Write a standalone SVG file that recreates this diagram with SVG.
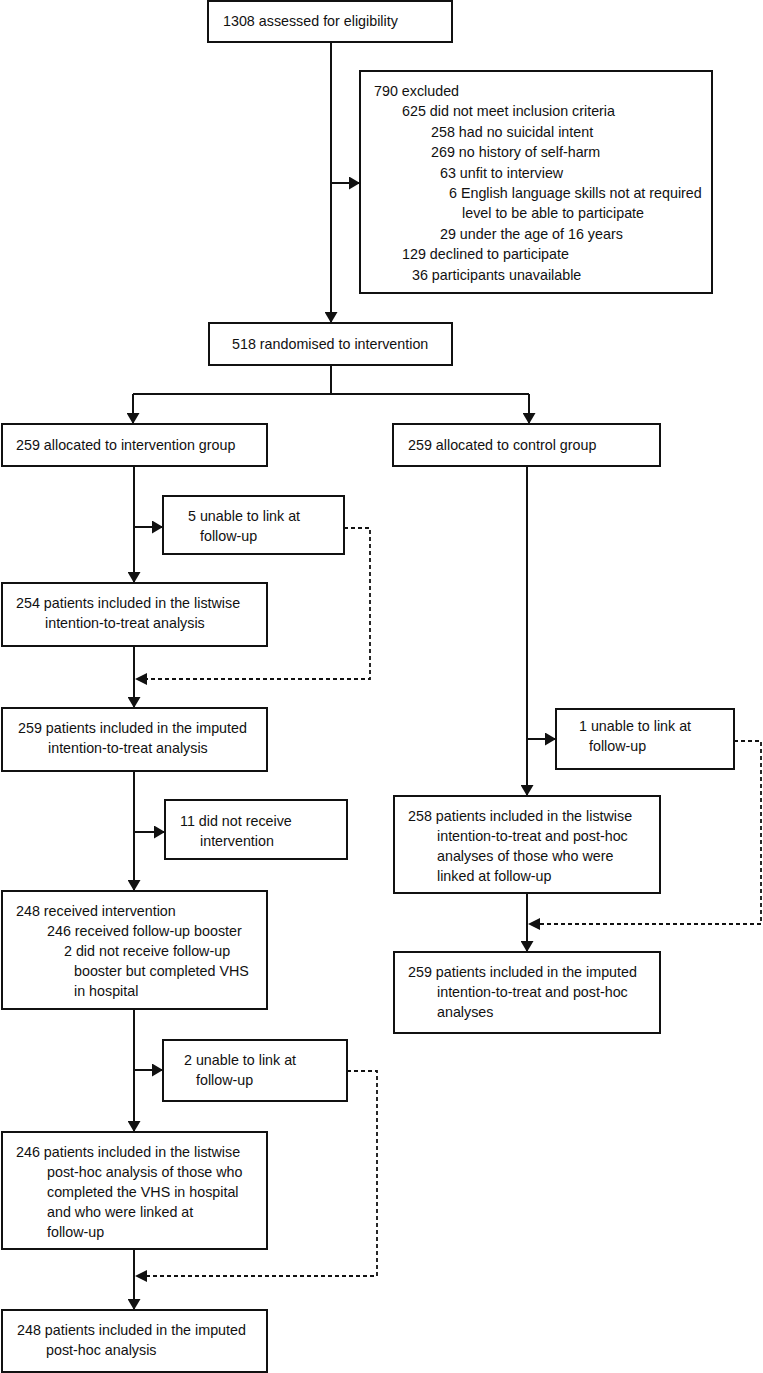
<svg xmlns="http://www.w3.org/2000/svg" width="763" height="1373" viewBox="0 0 763 1373">
<style>
.box{fill:#fff;stroke:#111;stroke-width:2}
.ln{fill:none;stroke:#111;stroke-width:2}
.ds{fill:none;stroke:#111;stroke-width:1.8;stroke-dasharray:4 3}
text{font-family:"Liberation Sans",Arial,sans-serif;font-size:14.3px;fill:#111}
</style>
<defs>
<marker id="ah" markerUnits="userSpaceOnUse" markerWidth="11" markerHeight="13" refX="10" refY="6.5" orient="auto" viewBox="0 0 11 13">
<path d="M0,0 L11,6.5 L0,13 z" fill="#111"/>
</marker>
</defs>
<rect width="763" height="1373" fill="#fff"/>
<g id="connectors">
<path class="ln" d="M331,42 V322" marker-end="url(#ah)"/>
<path class="ln" d="M331,183 H359" marker-end="url(#ah)"/>
<path class="ln" d="M331,365 V394 M133,394 H529"/>
<path class="ln" d="M133,394 V423" marker-end="url(#ah)"/>
<path class="ln" d="M529,394 V423" marker-end="url(#ah)"/>
<path class="ln" d="M134,466 V582" marker-end="url(#ah)"/>
<path class="ln" d="M134,527 H162" marker-end="url(#ah)"/>
<path class="ln" d="M134,646 V707" marker-end="url(#ah)"/>
<path class="ln" d="M134,771 V890" marker-end="url(#ah)"/>
<path class="ln" d="M134,832 H164" marker-end="url(#ah)"/>
<path class="ln" d="M134,1009 V1131" marker-end="url(#ah)"/>
<path class="ln" d="M134,1070 H162" marker-end="url(#ah)"/>
<path class="ln" d="M134,1249 V1309" marker-end="url(#ah)"/>
<path class="ln" d="M527,466 V795" marker-end="url(#ah)"/>
<path class="ln" d="M527,739 H555" marker-end="url(#ah)"/>
<path class="ln" d="M527,893 V951" marker-end="url(#ah)"/>
<path class="ds" d="M344,528 H370 V679 H147"/>
<path d="M135,679 L147,673 L147,685 z" fill="#111"/>
<path class="ds" d="M347,1071 H377 V1276 H147"/>
<path d="M135,1276 L147,1270 L147,1282 z" fill="#111"/>
<path class="ds" d="M734,741 H761 V924 H540"/>
<path d="M528,924 L540,918 L540,930 z" fill="#111"/>
</g>
<g id="assessed">
<rect class="box" x="208" y="1" width="244" height="41"/>
<text x="223" y="26">1308 assessed for eligibility</text>
</g>
<g id="excluded">
<rect class="box" x="360" y="71" width="352" height="222"/>
<text x="374" y="96">790 excluded</text>
<text x="402" y="116.4">625 did not meet inclusion criteria</text>
<text x="431" y="136.8">258 had no suicidal intent</text>
<text x="431" y="157.2">269 no history of self-harm</text>
<text x="440" y="177.6">63 unfit to interview</text>
<text x="449" y="198">6 English language skills not at required</text>
<text x="462" y="218.4">level to be able to participate</text>
<text x="440" y="238.8">29 under the age of 16 years</text>
<text x="402" y="259.2">129 declined to participate</text>
<text x="412" y="279.6">36 participants unavailable</text>
</g>
<g id="randomised">
<rect class="box" x="209" y="323" width="243" height="42"/>
<text x="232" y="349">518 randomised to intervention</text>
</g>
<g id="intervention">
<rect class="box" x="2" y="424" width="265" height="42"/>
<text x="16" y="450">259 allocated to intervention group</text>
</g>
<g id="control">
<rect class="box" x="393" y="424" width="267" height="42"/>
<text x="408" y="450">259 allocated to control group</text>
</g>
<g id="unable5">
<rect class="box" x="163" y="496" width="181" height="58"/>
<text x="188" y="521">5 unable to link at</text>
<text x="200" y="541">follow-up</text>
</g>
<g id="listwise254">
<rect class="box" x="2" y="583" width="265" height="63"/>
<text x="16" y="608">254 patients included in the listwise</text>
<text x="45" y="628">intention-to-treat analysis</text>
</g>
<g id="imputed259">
<rect class="box" x="2" y="708" width="265" height="63"/>
<text x="18" y="733">259 patients included in the imputed</text>
<text x="48" y="753">intention-to-treat analysis</text>
</g>
<g id="notreceive11">
<rect class="box" x="165" y="800" width="182" height="59"/>
<text x="180" y="826">11 did not receive</text>
<text x="200" y="846">intervention</text>
</g>
<g id="received248">
<rect class="box" x="2" y="891" width="265" height="118"/>
<text x="16" y="916">248 received intervention</text>
<text x="47" y="936">246 received follow-up booster</text>
<text x="64" y="956">2 did not receive follow-up</text>
<text x="74" y="976">booster but completed VHS</text>
<text x="74" y="996">in hospital</text>
</g>
<g id="unable2">
<rect class="box" x="163" y="1040" width="184" height="61"/>
<text x="184" y="1065">2 unable to link at</text>
<text x="196" y="1085">follow-up</text>
</g>
<g id="listwise246">
<rect class="box" x="2" y="1132" width="265" height="117"/>
<text x="16" y="1157">246 patients included in the listwise</text>
<text x="47" y="1177">post-hoc analysis of those who</text>
<text x="47" y="1197">completed the VHS in hospital</text>
<text x="47" y="1217">and who were linked at</text>
<text x="47" y="1237">follow-up</text>
</g>
<g id="imputed248">
<rect class="box" x="2" y="1310" width="265" height="62"/>
<text x="17" y="1335">248 patients included in the imputed</text>
<text x="46" y="1355">post-hoc analysis</text>
</g>
<g id="unable1">
<rect class="box" x="556" y="709" width="178" height="60"/>
<text x="579" y="731">1 unable to link at</text>
<text x="589" y="751">follow-up</text>
</g>
<g id="listwise258">
<rect class="box" x="394" y="796" width="266" height="97"/>
<text x="408" y="821">258 patients included in the listwise</text>
<text x="437" y="841">intention-to-treat and post-hoc</text>
<text x="437" y="861">analyses of those who were</text>
<text x="437" y="881">linked at follow-up</text>
</g>
<g id="imputed259c">
<rect class="box" x="394" y="952" width="266" height="81"/>
<text x="408" y="977">259 patients included in the imputed</text>
<text x="437" y="997">intention-to-treat and post-hoc</text>
<text x="437" y="1017">analyses</text>
</g>
</svg>
